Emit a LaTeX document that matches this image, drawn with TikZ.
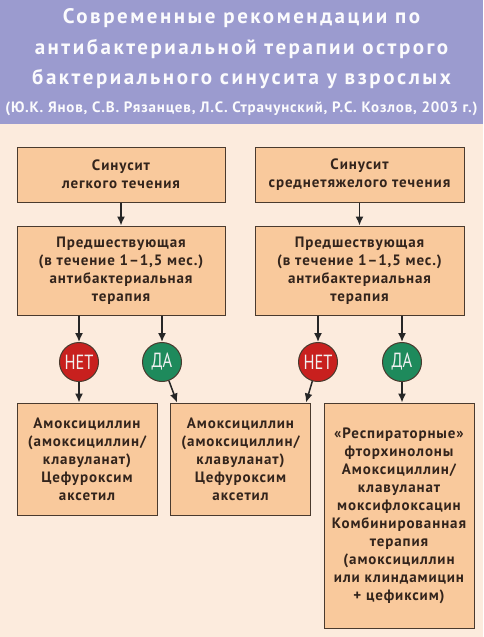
\documentclass[tikz,border=0pt]{standalone}
\usepackage{fontspec}
\setmainfont{PT Sans}
\newfontfamily\headfont[LetterSpace=12]{PT Sans}
\newfontfamily\authorfont[LetterSpace=5.5]{PT Sans}
\newfontfamily\narrowfont[FakeStretch=0.8]{PT Sans}
\newfontfamily\boxfont[Ligatures=TeX, LetterSpace=6]{PT Sans Bold}
\usetikzlibrary{arrows.meta}
\definecolor{bgpeach}{HTML}{FCEBDD}
\definecolor{headband}{HTML}{9B9BCF}
\definecolor{boxfill}{HTML}{F9C99C}
\definecolor{boxedge}{HTML}{4A3A2E}
\definecolor{boxtext}{HTML}{33241C}
\definecolor{nored}{HTML}{C8201E}
\definecolor{yesgreen}{HTML}{1E8A5C}
\tikzset{
    stepbox/.style={
        draw=boxedge, fill=boxfill, line width=1pt, inner sep=0pt,
        align=center, text=boxtext,
        font={\boxfont\fontsize{15}{18}\selectfont}
    },
    answer/.style={
        circle, draw=boxedge, line width=1pt, minimum size=39pt, inner sep=0pt,
        text=white!88!gray, font=\narrowfont\fontsize{20.5}{20}\selectfont
    },
    flow/.style={
        draw=black!85, line width=1.5pt, -{Latex[length=9pt, width=8pt]}
    }
}

\begin{document}
\begin{tikzpicture}[ x=1pt, y=-1pt ]

	\useasboundingbox (0, 0) rectangle (483, 637);
	\fill[ bgpeach ] (0, 0) rectangle (483, 637);
	\fill[ headband ] (0, 0) rectangle (483, 124);

	\def\midx{241.5}

		\node[ text=white!96!headband, align=center, font=\headfont\bfseries\fontsize{21}{30.5}\selectfont ] (title) at (\midx, 49) {Современные рекомендации по\\ антибактериальной терапии острого\\ бактериального синусита у взрослых};
		\node[ text=white!96!headband, font=\authorfont\bfseries\fontsize{15}{16}\selectfont ] (authors) at (\midx, 109) {(Ю.К. Янов, С.В. Рязанцев, Л.С. Страчунский, Р.С. Козлов, 2003 г.)};

	% severity
		\node[ stepbox, minimum width=208pt, minimum height=55pt ] (mild) at (121, 174.5) {Синусит\\ легкого течения};
		\node[ stepbox, minimum width=209pt, minimum height=55pt ] (moderate) at (359.5, 174.5) {Синусит\\ среднетяжелого течения};

	% previous therapy
		\node[ stepbox, minimum width=208pt, minimum height=89pt ] (prior1) at (121, 270.5) {Предшествующая\\ (в течение 1–1,5 мес.)\\ антибактериальная\\ терапия};
		\node[ stepbox, minimum width=209pt, minimum height=89pt ] (prior2) at (359.5, 270.5) {Предшествующая\\ (в течение 1–1,5 мес.)\\ антибактериальная\\ терапия};

		\draw[ flow ] (mild) -- (prior1);
		\draw[ flow ] (moderate) -- (prior2);

	% answers
		\node[ answer, fill=nored ] (no1) at (79, 362) {НЕТ};
		\node[ answer, fill=yesgreen ] (yes1) at (162, 362) {ДА};
		\node[ answer, fill=nored ] (no2) at (318, 362) {НЕТ};
		\node[ answer, fill=yesgreen ] (yes2) at (402, 362) {ДА};

		\draw[ flow ] (prior1.south -| no1) -- (no1);
		\draw[ flow ] (prior1.south -| yes1) -- (yes1);
		\draw[ flow ] (prior2.south -| no2) -- (no2);
		\draw[ flow ] (prior2.south -| yes2) -- (yes2);

	% treatment
		\node[ stepbox, minimum width=140pt, minimum height=112pt ] (drug1) at (87, 459) {Амоксициллин\\ (амоксициллин/\\ клавуланат)\\ Цефуроксим\\ аксетил};
		\node[ stepbox, minimum width=140pt, minimum height=112pt ] (drug2) at (240.5, 459) {Амоксициллин\\ (амоксициллин/\\ клавуланат)\\ Цефуроксим\\ аксетил};
		\node[ stepbox, minimum width=150pt, minimum height=225pt ] (drug3) at (399, 515.5) {«Респираторные»\\ фторхинолоны\\ Амоксициллин/\\ клавуланат\\ моксифлоксацин\\ Комбинированная\\ терапия\\ (амоксициллин\\ или клиндамицин\\ + цефиксим)};

		\draw[ flow ] (no1) -- (drug1.north -| no1);
		\draw[ flow ] (yes1) -- ([xshift=7pt]drug2.north west);
		\draw[ flow ] (no2) -- ([xshift=-5pt]drug2.north east);
		\draw[ flow ] (yes2) -- (drug3.north -| yes2);

\end{tikzpicture}
\end{document}
